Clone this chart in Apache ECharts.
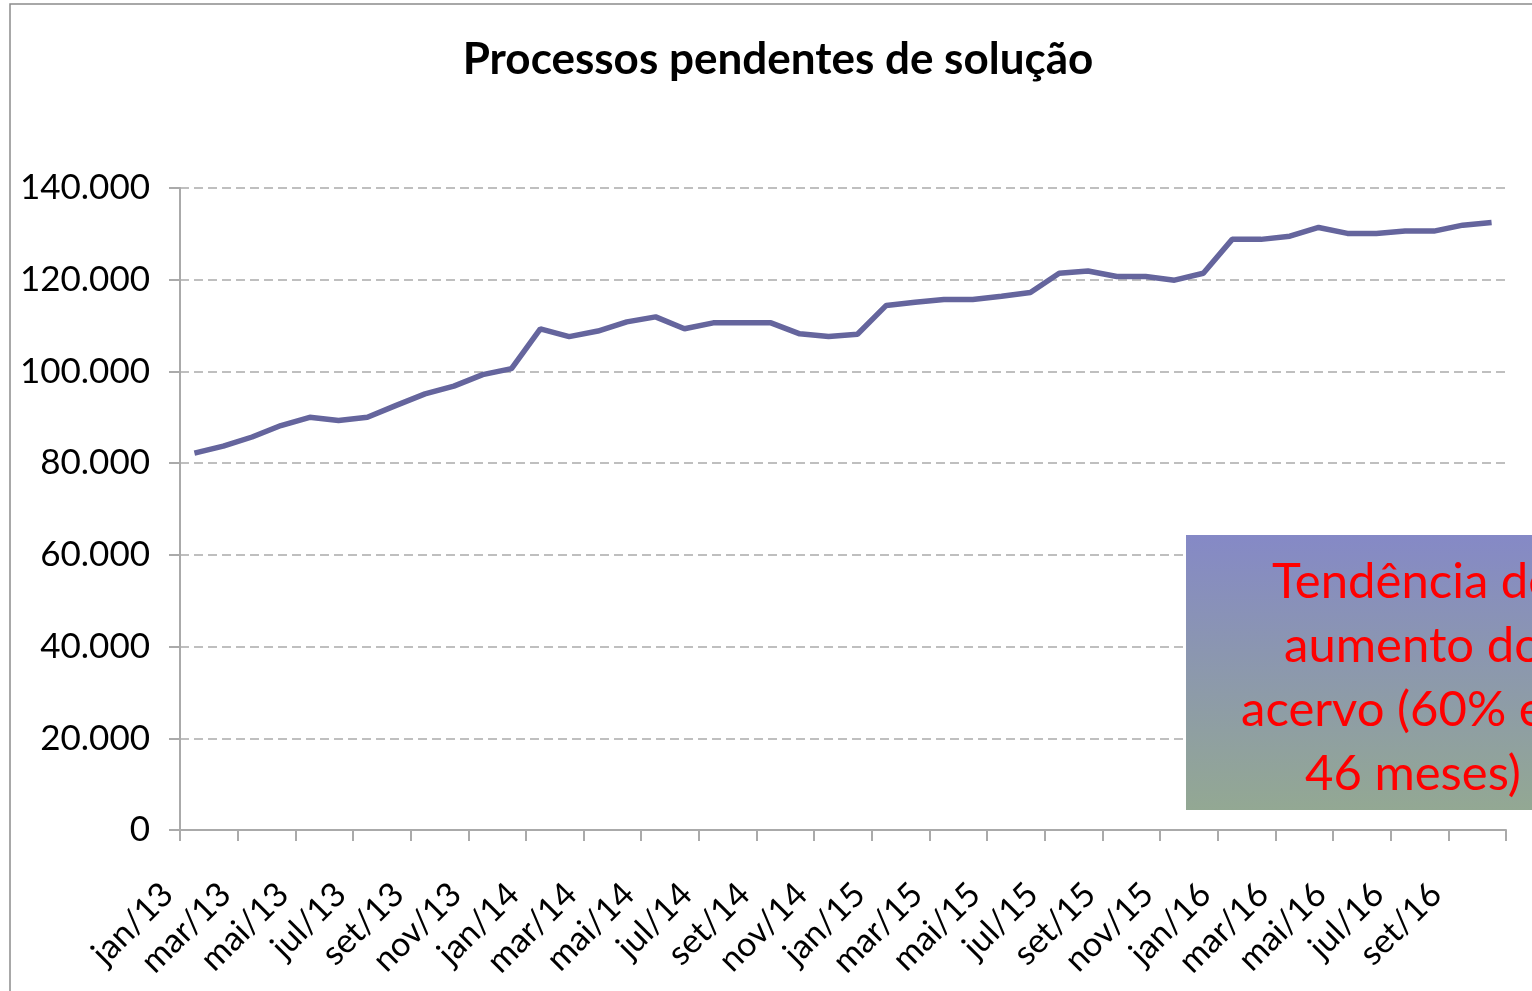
<!DOCTYPE html>
<html>
<head>
<meta charset="utf-8">
<script src="https://cdn.jsdelivr.net/npm/echarts@6/dist/echarts.min.js"></script>
<style>
  html, body { margin: 0; padding: 0; background: #fff; }
  #chart { width: 1532px; height: 991px; }
</style>
</head>
<body>
<div id="chart"></div>
<script>
// meses jan/13 .. out/16
const months = ['jan', 'fev', 'mar', 'abr', 'mai', 'jun', 'jul', 'ago', 'set', 'out', 'nov', 'dez']
const categories = []
for (let y = 13; y <= 16; y++) {
  for (let m = 0; m < 12; m++) {
    if (y === 16 && m > 9) break
    categories.push(months[m] + '/' + y)
  }
}

const pendentes = [
  82200, 83700, 85700, 88200, 90000, 89300, 90000, 92600, 95100, 96800, 99300, 100600,
  109300, 107600, 108800, 110800, 111900, 109300, 110600, 110600, 110600, 108200, 107600, 108100,
  114400, 115100, 115700, 115700, 116400, 117200, 121400, 121900, 120700, 120700, 119900, 121400,
  128800, 128800, 129500, 131400, 130100, 130100, 130600, 130600, 131900, 132500
]

const yMin = 0
const yMax = 140000
const yStep = 20000

const titulo = 'Processos pendentes de solução'
const nota = 'Tendência de\naumento do\nacervo (60% em\n46 meses)'

const fonte = 'Lato, "Open Sans", sans-serif'

let myChart = echarts.init(document.getElementById('chart'))

// 120.000 style
function fmt(v) {
  if (v === 0) return '0'
  return (v / 1000) + '.000'
}

var option = {
  animation: false,
  title: {
    text: titulo,
    left: 773,
    top: 33,
    textAlign: 'center',
    textStyle: {
      fontFamily: fonte,
      fontWeight: 'bold',
      fontSize: 44,
      color: '#000'
    }
  },
  grid: {
    left: 180,
    right: 26,
    top: 188,
    bottom: 161,
    containLabel: false
  },
  xAxis: {
    type: 'category',
    data: categories,
    boundaryGap: true,
    axisLine: { lineStyle: { color: '#aaaaaa', width: 2 } },
    axisTick: { show: true, interval: 1, length: 11, inside: false, lineStyle: { color: '#aaaaaa', width: 2 } },
    axisLabel: {
      interval: 1,
      rotate: 45,
      margin: 32,
      fontFamily: fonte,
      fontSize: 34,
      color: '#000',
      padding: [0, 38, 0, 0]
    },
    splitLine: { show: false }
  },
  yAxis: {
    type: 'value',
    min: yMin,
    max: yMax,
    interval: yStep,
    axisLine: { show: true, lineStyle: { color: '#aaaaaa', width: 2 } },
    axisTick: { show: true, length: 11, lineStyle: { color: '#aaaaaa', width: 2 } },
    axisLabel: {
      margin: 30,
      fontFamily: fonte,
      fontSize: 35,
      color: '#000',
      formatter: fmt
    },
    splitLine: {
      show: true,
      lineStyle: { color: '#aaaaaa', width: 1.5, type: [9, 5] }
    }
  },
  graphic: [
    {
      type: 'rect',
      silent: true,
      shape: { x: 10, y: 4, width: 1600, height: 1100 },
      style: { fill: 'none', stroke: '#8c8c8c', lineWidth: 1.5 },
      z: 0
    },
    {
      type: 'rect',
      silent: true,
      shape: { x: 1186, y: 535, width: 460, height: 275 },
      style: {
        fill: new echarts.graphic.LinearGradient(0, 0, 0, 1, [
          { offset: 0, color: '#8589c6' },
          { offset: 1, color: '#93a893' }
        ])
      },
      z: 10
    },
    {
      type: 'text',
      silent: true,
      x: 1413,
      y: 678,
      style: {
        text: nota,
        fill: '#ff0000',
        fontFamily: fonte,
        fontSize: 49,
        lineHeight: 64,
        align: 'center',
        verticalAlign: 'middle'
      },
      z: 11
    }
  ],
  series: [
    {
      name: 'Processos pendentes',
      type: 'line',
      data: pendentes,
      symbol: 'none',
      lineStyle: { color: '#65659d', width: 5.5 },
      z: 5
    }
  ]
}

myChart.setOption(option)
</script>
</body>
</html>
